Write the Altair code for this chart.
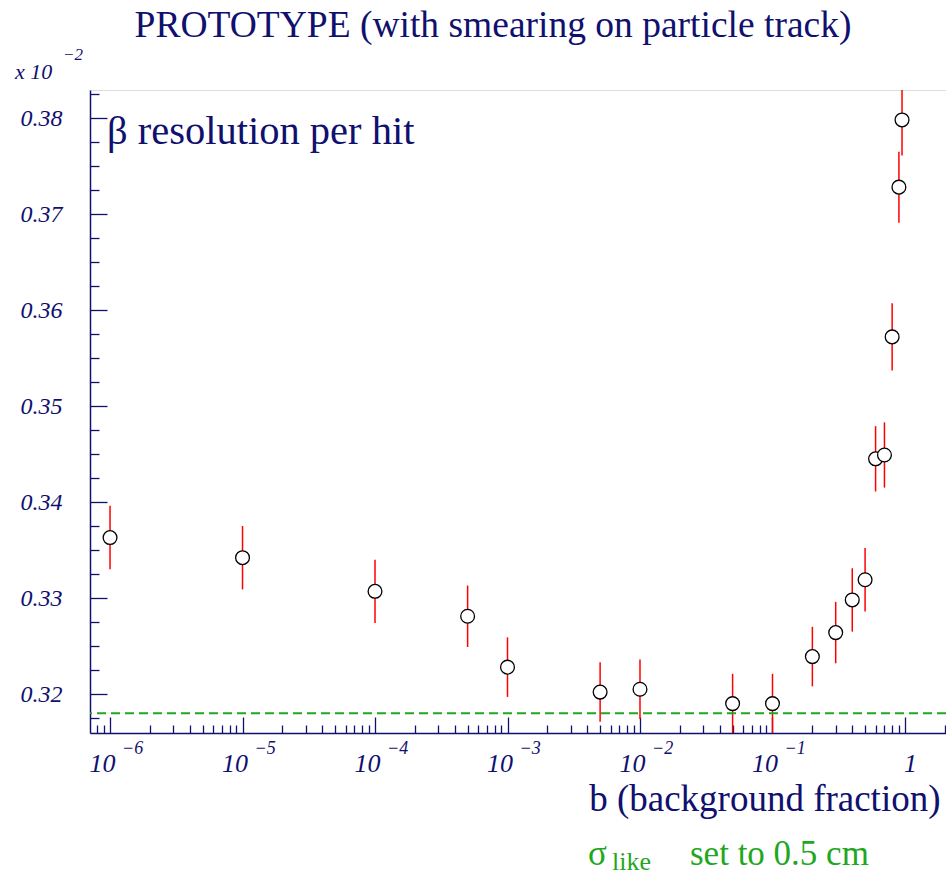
import altair as alt
import pandas as pd
import numpy as np

# ---- data ----
b_frac = [1e-6, 1e-5, 1e-4, 5e-4, 1e-3, 5e-3, 1e-2, 5e-2, 1e-1,
          0.2, 0.3, 0.4, 0.5, 0.6, 0.7, 0.8, 0.9, 0.95]
beta_res = [0.3363, 0.3342, 0.3307, 0.3281, 0.3228, 0.3202, 0.3205, 0.3190, 0.3190,
            0.3239, 0.3264, 0.3298, 0.3319, 0.3445, 0.3449, 0.3572, 0.3728, 0.3798]
beta_err = [0.0033, 0.0033, 0.0033, 0.0032, 0.0031, 0.0031, 0.0031, 0.0031, 0.0031,
            0.0031, 0.0032, 0.0033, 0.0033, 0.0034, 0.0034, 0.0035, 0.0037, 0.0037]
sigma_line = [0.318]

decades = [1e-6, 1e-5, 1e-4, 1e-3, 1e-2, 1e-1]
exponent_labels = ["\u22126", "\u22125", "\u22124", "\u22123", "\u22122", "\u22121"]

x_ticks = [m * 10.0 ** e for e in range(-7, 1) for m in range(1, 10)]
x_ticks = [v for v in x_ticks if 7.06e-7 <= v <= 2.04] + [2.0]
y_ticks = [round(0.3175 + 0.0025 * i, 4) for i in range(27)]

NAVY = "#10106e"
GREEN = "#1fa81f"
FONT = "Liberation Serif"

df = pd.DataFrame({"b": b_frac, "res": beta_res, "err": beta_err})
df["lo"] = df["res"] - df["err"]
df["hi"] = df["res"] + df["err"]

W, H = 856, 643

xscale = alt.Scale(type="log", domain=[7.06e-7, 2.04], nice=False)
yscale = alt.Scale(domain=[0.31594, 0.38292], nice=False, zero=False)

x_major = "abs(log(datum.value)/LN10 - round(log(datum.value)/LN10)) < 1e-6"
y_major = "abs(datum.value*100 - round(datum.value*100)) < 1e-6"

xaxis = alt.Axis(
    values=x_ticks, grid=False,
    domainColor=NAVY, domainWidth=1.5,
    tickColor=NAVY, tickWidth=1.3,
    tickSize={"expr": f"({x_major}) ? -16 : -8"},
    labelExpr=f"({x_major}) ? (datum.value > 0.5 ? '1' : '10') : ''",
    labelFont=FONT, labelFontStyle="italic", labelFontSize=26, labelColor=NAVY,
    labelAlign={"expr": "datum.value > 0.5 ? 'center' : 'right'"},
    labelBaseline="alphabetic", labelOffset=5, labelPadding=54,
    labelOverlap=False, labelBound=False, labelFlush=False,
    title="b (background fraction)", titleFont=FONT, titleFontSize=37,
    titleFontWeight="normal", titleColor=NAVY, titleAlign="right",
    titleBaseline="alphabetic", titleAnchor="end", titleX=850, titleY=77,
)
yaxis = alt.Axis(
    values=y_ticks, grid=False,
    domainColor=NAVY, domainWidth=1.5,
    tickColor=NAVY, tickWidth=1.3,
    tickSize={"expr": f"({y_major}) ? -17 : -9"},
    labelExpr=f"({y_major}) ? format(datum.value, '.2f') : ''",
    labelFont=FONT, labelFontStyle="italic", labelFontSize=24, labelColor=NAVY,
    labelPadding=45, labelOverlap=False, labelBound=False, labelFlush=False,
    title=None,
)

X = lambda f: alt.X(f, scale=xscale, axis=xaxis)
Y = lambda f: alt.Y(f, scale=yscale, axis=yaxis)

base = alt.Chart(df)

bars = base.mark_rule(color="#ff0000", strokeWidth=1.5, clip=True).encode(
    x=X("b:Q"), y=Y("lo:Q"), y2="hi:Q",
)
points = base.mark_circle(size=190, fill="white", stroke="black",
                          strokeWidth=1.3, opacity=1).encode(
    x=X("b:Q"), y=Y("res:Q"),
)
green = alt.Chart(pd.DataFrame({"y": sigma_line})).mark_rule(
    color=GREEN, strokeWidth=2, strokeDash=[9, 5]
).encode(y=Y("y:Q"))

exps = alt.Chart(pd.DataFrame({"b": decades, "t": exponent_labels})).mark_text(
    font=FONT, fontStyle="italic", fontSize=18, color=NAVY,
    align="left", baseline="alphabetic", dx=12
).encode(x=X("b:Q"), y=alt.value(H + 21), text="t:N")


def label(txt, x, y, size, color=NAVY, style="normal", align="left"):
    return alt.Chart(pd.DataFrame({"t": [txt]})).mark_text(
        font=FONT, fontSize=size, color=color, fontStyle=style,
        align=align, baseline="alphabetic"
    ).encode(x=alt.value(x), y=alt.value(y), text="t:N")


texts = [
    label("PROTOTYPE (with smearing on particle track)", 403, -53, 37.5, align="center"),
    label("\u03b2 resolution per hit", 17, 54, 40.5),
    label("x 10", -75, -11, 22, style="italic"),
    label("\u22122", -27, -30, 17, style="italic"),
    label("\u03c3", 498, 775, 35, color=GREEN),
    label("like", 522, 780, 26, color=GREEN),
    label("set to 0.5 cm", 600, 775, 35, color=GREEN),
]

chart = alt.layer(bars, green, points, exps, *texts).properties(
    width=W, height=H,
    autosize=alt.AutoSizeParams(type="none"),
    padding={"left": 90, "top": 90, "right": 0, "bottom": 144},
).configure_view(stroke=NAVY, strokeWidth=1.5).configure(background="white")

chart.save("out.html", embed_options={"renderer": "svg", "actions": False})
